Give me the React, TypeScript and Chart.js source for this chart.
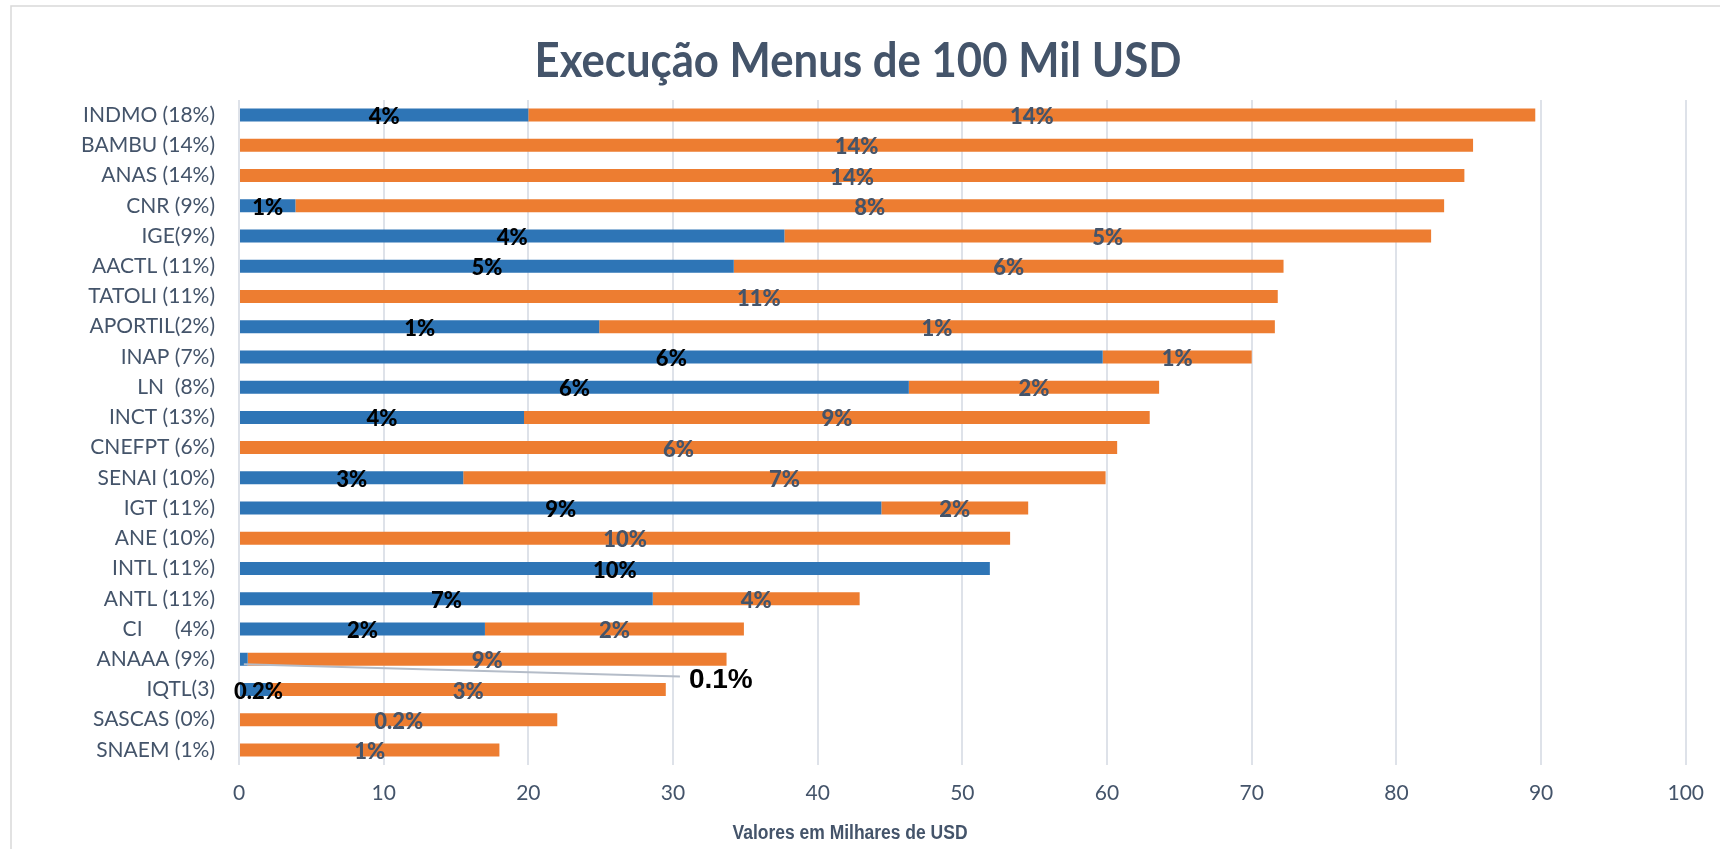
import React, { useEffect, useRef } from "react";
import { Chart, registerables } from "chart.js";

Chart.register(...registerables);

const categories = [
  "INDMO (18%)",
  "BAMBU (14%)",
  "ANAS (14%)",
  "CNR (9%)",
  "IGE(9%)",
  "AACTL (11%)",
  "TATOLI (11%)",
  "APORTIL(2%)",
  "INAP (7%)",
  "LN  (8%)",
  "INCT (13%)",
  "CNEFPT (6%)",
  "SENAI (10%)",
  "IGT (11%)",
  "ANE (10%)",
  "INTL (11%)",
  "ANTL (11%)",
  "CI      (4%)",
  "ANAAA (9%)",
  "IQTL(3)",
  "SASCAS (0%)",
  "SNAEM (1%)",
];

const executed = [20.0, 0, 0, 3.9, 37.7, 34.2, 0, 24.9, 59.7, 46.3, 19.7, 0, 15.5, 44.4, 0, 51.9, 28.6, 17.0, 0.6, 2.2, 0, 0];
const remaining = [69.6, 85.3, 84.7, 79.4, 44.7, 38.0, 71.8, 46.7, 10.3, 17.3, 43.25, 60.7, 44.4, 10.15, 53.3, 0, 14.3, 17.9, 33.1, 27.3, 22.0, 18.0];

const executedLabels = ["4%", "", "", "1%", "4%", "5%", "", "1%", "6%", "6%", "4%", "", "3%", "9%", "", "10%", "7%", "2%", "0.1%", "0.2%", "", ""];
const remainingLabels = ["14%", "14%", "14%", "8%", "5%", "6%", "11%", "1%", "1%", "2%", "9%", "6%", "7%", "2%", "10%", "", "4%", "2%", "9%", "3%", "0.2%", "1%"];

const xMin = 0;
const xMax = 100;
const xStep = 10;

const titleText = "Execução Menus de 100 Mil USD";
const axisTitleText = "Valores em Milhares de USD";

const BLUE = "#2E75B6";
const ORANGE = "#ED7D31";
const SLATE = "#44546A";
const GRID = "#DEE2E9";

// callout for the tiny ANAAA executed segment
const CALLOUT_INDEX = 18;
const CALLOUT_VALUE_X = 31.1; // left of callout label in axis units
const CALLOUT_ROW_OFFSET = 0.67; // below the row in category units

function drawScaledText(ctx: CanvasRenderingContext2D, text: string, font: string, cx: number, cy: number, targetWidth: number, color: string) {
  ctx.save();
  ctx.font = font;
  ctx.fillStyle = color;
  ctx.textAlign = "center";
  ctx.textBaseline = "middle";
  const w = ctx.measureText(text).width;
  const sx = w > 0 ? targetWidth / w : 1;
  ctx.translate(cx, cy);
  ctx.scale(sx, 1);
  ctx.fillText(text, 0, 0);
  ctx.restore();
}

const framePlugin = {
  id: "frame",
  beforeDraw(chart: any) {
    const ctx = chart.ctx as CanvasRenderingContext2D;
    ctx.save();
    ctx.fillStyle = "#ffffff";
    ctx.fillRect(0, 0, chart.width, chart.height);
    ctx.strokeStyle = "#D9D9D9";
    ctx.lineWidth = 1.5;
    ctx.beginPath();
    ctx.moveTo(11, chart.height + 5);
    ctx.lineTo(11, 6);
    ctx.lineTo(chart.width + 5, 6);
    ctx.stroke();
    ctx.restore();
  },
  afterDraw(chart: any) {
    const ctx = chart.ctx as CanvasRenderingContext2D;
    drawScaledText(ctx, titleText, "bold 48px Lato", chart.width / 2 - 2, 62, 647, SLATE);
    drawScaledText(ctx, axisTitleText, "bold 20px 'Liberation Sans', Arial", chart.width / 2 - 10, 833, 235, SLATE);
  },
};

const labelPlugin = {
  id: "barLabels",
  afterDatasetsDraw(chart: any) {
    const ctx = chart.ctx as CanvasRenderingContext2D;
    const sets = [
      { labels: executedLabels, color: "#000000" },
      { labels: remainingLabels, color: SLATE },
    ];
    ctx.save();
    sets.forEach((s, di) => {
      const meta = chart.getDatasetMeta(di);
      meta.data.forEach((el: any, i: number) => {
        const txt = s.labels[i];
        if (!txt) return;
        const p = el.getProps(["x", "y", "base"], true);
        if (di === 0 && i === CALLOUT_INDEX) {
          const xs = chart.scales.x;
          const ys = chart.scales.y;
          const lx = xs.getPixelForValue(CALLOUT_VALUE_X);
          const ly = ys.getPixelForValue(i + CALLOUT_ROW_OFFSET);
          ctx.strokeStyle = "#B4BCC8";
          ctx.lineWidth = 2;
          ctx.beginPath();
          ctx.moveTo((p.x + p.base) / 2, p.y + 5);
          ctx.lineTo(lx - 9, ly - 3);
          ctx.stroke();
          ctx.font = "bold 28px 'Liberation Sans', Arial";
          ctx.fillStyle = "#000000";
          ctx.textAlign = "left";
          ctx.textBaseline = "middle";
          ctx.fillText(txt, lx, ly + 1);
          return;
        }
        ctx.font = "900 22px Lato";
        ctx.fillStyle = s.color;
        ctx.textAlign = "center";
        ctx.textBaseline = "middle";
        let cx = (p.x + p.base) / 2;
        if (di === 0 && Math.abs(p.x - p.base) < 40) {
          cx = Math.max(cx, p.base + ctx.measureText(txt).width / 2 - 6);
        }
        ctx.fillText(txt, cx, p.y + 2);
      });
    });
    ctx.restore();
  },
};

export default function App() {
  const ref = useRef<HTMLCanvasElement | null>(null);

  useEffect(() => {
    document.body.style.margin = "0";
    const canvas = ref.current;
    if (!canvas) return;
    const chart = new Chart(canvas, {
      type: "bar",
      data: {
        labels: categories,
        datasets: [
          {
            label: "Executado",
            data: executed,
            backgroundColor: BLUE,
            borderWidth: 0,
            barPercentage: 0.43,
            categoryPercentage: 1,
          },
          {
            label: "Por executar",
            data: remaining,
            backgroundColor: ORANGE,
            borderWidth: 0,
            barPercentage: 0.43,
            categoryPercentage: 1,
          },
        ],
      },
      options: {
        indexAxis: "y",
        responsive: false,
        animation: false,
        devicePixelRatio: 1,
        layout: { padding: { top: 100, right: 30, bottom: 0, left: 0 } },
        plugins: {
          legend: { display: false },
          title: { display: false },
          tooltip: { enabled: false },
        },
        scales: {
          x: {
            stacked: true,
            min: xMin,
            max: xMax,
            ticks: {
              stepSize: xStep,
              color: SLATE,
              font: { family: "Lato", size: 21 },
              padding: 16,
            },
            grid: { color: GRID, lineWidth: 2, drawTicks: false },
            border: { display: false },
            afterFit(scale: any) {
              scale.height = 84;
            },
          },
          y: {
            stacked: true,
            ticks: {
              color: SLATE,
              font: { family: "Lato", size: 21 },
              padding: 24,
              autoSkip: false,
            },
            grid: { display: false, drawTicks: false },
            border: { display: false },
            afterFit(scale: any) {
              scale.width = 239;
            },
          },
        },
      },
      plugins: [framePlugin, labelPlugin],
    });
    return () => chart.destroy();
  }, []);

  return (
    <div style={{ width: 1720, height: 849, overflow: "hidden" }}>
      <canvas ref={ref} width={1720} height={849} style={{ display: "block", width: 1720, height: 849 }} />
    </div>
  );
}
